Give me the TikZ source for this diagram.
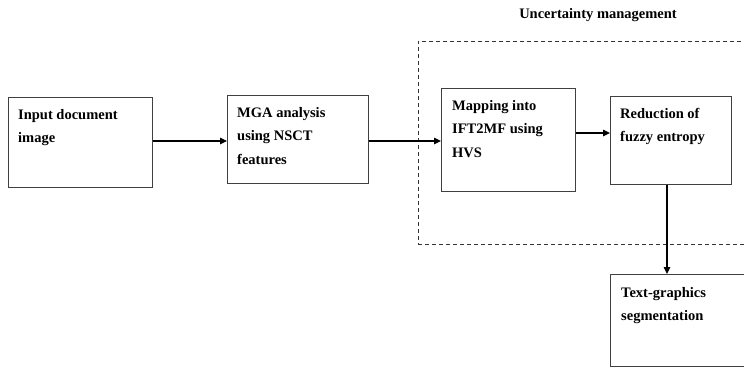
\documentclass[tikz,border=0pt]{standalone}
\usepackage{fontspec}
\setmainfont{Liberation Serif}
\usetikzlibrary{arrows.meta,calc}
\begin{document}
\begin{tikzpicture}[x=1pt,y=-1pt,
  blk/.style={draw=black!75,line width=1.3pt,rectangle,inner sep=0pt,anchor=north west},
  lbl/.style={anchor=north west,inner sep=0pt,align=left,font=\fontsize{14.5}{23.5}\selectfont\bfseries},
  conn/.style={draw=black,line width=1.1pt,-{Triangle[length=7pt,width=6.5pt]}},
  grp/.style={draw=black!80,line width=0.9pt,dash pattern=on 4pt off 3pt}]
\useasboundingbox (0,0) rectangle (744,367);
\clip (0,0) rectangle (744,367);
% group
\node[grp,rectangle,inner sep=0pt,anchor=north west,minimum width=340pt,minimum height=203pt] (grp) at (418,41) {};
\node[font=\fontsize{14.5}{17}\selectfont\bfseries] (title) at (598,15) {Uncertainty management};
% blocks
\node[blk,minimum width=144pt,minimum height=90pt] (b1) at (8,97) {};
\node[blk,minimum width=141pt,minimum height=88pt] (b2) at (227,95) {};
\node[blk,minimum width=134pt,minimum height=103pt] (b3) at (441,88) {};
\node[blk,minimum width=121pt,minimum height=88pt] (b4) at (610,96) {};
\node[blk,minimum width=160pt,minimum height=92pt] (b5) at (610,274) {};
% labels
\node[lbl] (t1) at ($(b1.north west)+(10,12)$) {Input document\\image};
\node[lbl] (t2) at ($(b2.north west)+(10,12)$) {MGA analysis\\using NSCT\\features};
\node[lbl] (t3) at ($(b3.north west)+(11,12)$) {Mapping into\\IFT2MF using\\HVS};
\node[lbl] (t4) at ($(b4.north west)+(10,12)$) {Reduction of\\fuzzy entropy};
\node[lbl] (t5) at ($(b5.north west)+(11,13)$) {Text-graphics\\segmentation};
% connectors
\coordinate (a1) at ($(b1.north east)+(0,44)$);
\coordinate (a2) at ($(b2.north east)+(0,46)$);
\coordinate (a3) at ($(b3.north east)+(0,45)$);
\draw[conn] (a1) -- (a1 -| b2.west);
\draw[conn] (a2) -- (a2 -| b3.west);
\draw[conn] (a3) -- (a3 -| b4.west);
\draw[conn] ($(b4.south west)+(57,0)$) -- ($(b5.north west)+(57,0)$);
\end{tikzpicture}
\end{document}
